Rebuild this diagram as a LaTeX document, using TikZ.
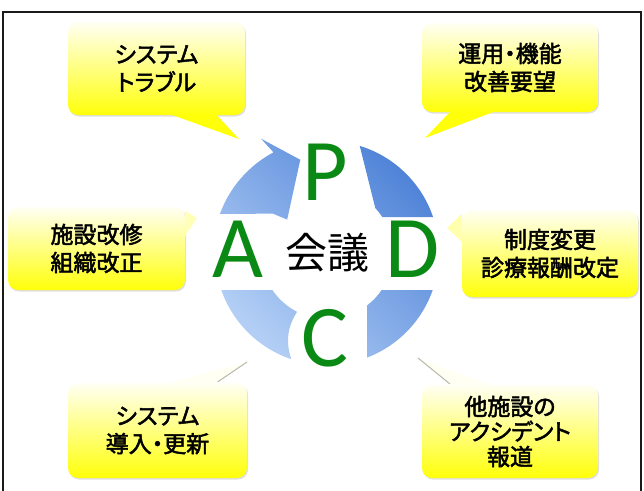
\documentclass[tikz,border=0pt]{standalone}
\usepackage{fontspec}
\usepackage{xcolor}
\usepackage{tikz}
\usetikzlibrary{calc,positioning,shadows}
\setmainfont{Carlito}
\newfontfamily\jpfont[RawFeature=+palt,FakeBold=2.2]{Noto Sans CJK JP}
\newfontfamily\jpplain{Noto Sans CJK JP}
\newfontfamily\pdcafont{Carlito}
\definecolor{framex}{HTML}{1A1A1A}
\definecolor{bubtop}{HTML}{FFFFF4}
\definecolor{bubbot}{HTML}{FFFF0A}
\definecolor{ringl}{HTML}{B2CEF5}
\definecolor{ringr}{HTML}{5084D8}
\definecolor{greenx}{HTML}{0A8A14}
\definecolor{shadowx}{HTML}{B8B8A8}
\tikzset{
  bubble/.style={rounded corners=10pt,top color=bubtop,bottom color=bubbot,align=center,inner sep=0pt,
    font=\jpfont\fontsize{23}{28}\selectfont,
    drop shadow={shadow xshift=1pt,shadow yshift=-1.5pt,opacity=0.25}},
  letter/.style={font=\pdcafont\fontsize{88}{88}\selectfont,text=greenx,anchor=base,inner sep=0pt},
  edge/.style={shadowx,line width=1pt}
}
\begin{document}
\begin{tikzpicture}[x=1pt,y=-1pt]
\useasboundingbox (0,0) rectangle (644,490);
\draw[framex,line width=1.8pt] (3,495) -- (3,12) -- (641,12) -- (641,495);

\begin{scope}[shift={(327,253)},y=1pt]
\shade[top color=ringl,bottom color=ringr,shading angle=135]
  (160:114) arc[start angle=160,end angle=118,radius=114] -- (120:132) -- (106:97) -- (140:52) -- (144:67) -- cycle
  (73:112) arc[start angle=73,end angle=18.7,radius=112] -- (33:66) arc[start angle=33,end angle=43,radius=66] -- cycle
  (-19.3:112) arc[start angle=-19.3,end angle=-69,radius=112] -- (-52.7:66) arc[start angle=-52.7,end angle=-34.1,radius=66] -- cycle
  (-108.6:112) arc[start angle=-108.6,end angle=-160.7,radius=112] -- (-145.9:66) arc[start angle=-145.9,end angle=-117,radius=66] to[bend right=25] cycle;
\end{scope}

\node[font=\jpplain\fontsize{42}{42}\selectfont] (kaigi) at (327,253) {会議};
\node[letter] (p) at (325,200) {P};
\node[letter] (d) at (413,277) {D};
\node[letter] (c) at (325,366) {C};
\node[letter] (a) at (238,277) {A};

\coordinate (tltip) at (239,139);
\coordinate (trtip) at (425,138);
\coordinate (lmtip) at (197,218);
\coordinate (rmtip) at (447,228);
\coordinate (bltip) at (247,362);
\coordinate (brtip) at (418,358);

\node[bubble,minimum width=177pt,minimum height=93pt] (tl) at (156.5,68.5) {システム\\トラブル};
\node[bubble,minimum width=176pt,minimum height=89pt] (tr) at (510,67.5) {運用・機能\\改善要望};
\node[bubble,minimum width=177pt,minimum height=83pt] (lm) at (96.5,248.5) {施設改修\\組織改正};
\node[bubble,minimum width=176pt,minimum height=87pt] (rm) at (550,253.5) {制度変更\\診療報酬改定};
\node[bubble,minimum width=179pt,minimum height=95pt] (bl) at (157.5,430.5) {システム\\導入・更新};
\node[bubble,minimum width=176pt,minimum height=93pt,font=\jpfont\fontsize{23}{25}\selectfont] (br) at (510,431.5) {他施設の\\アクシデント\\報道};

\fill[bubbot] ($(tl.south west)+(105,0)$) -- (tltip) -- ($(tl.south west)+(149,0)$) -- cycle;
\fill[bubbot] ($(tr.south west)+(28,0)$) -- (trtip) -- ($(tr.south west)+(71,0)$) -- cycle;
\fill[bubbot!25!bubtop] ($(lm.north east)+(0,4)$) -- (lmtip) -- ($(lm.north east)+(0,29)$) -- cycle;
\fill[bubbot!30!bubtop] ($(rm.north west)+(0,4)$) -- (rmtip) -- ($(rm.north west)+(0,32)$) -- cycle;
\fill[bubtop] ($(bl.north west)+(102,0)$) -- (bltip) -- ($(bl.north west)+(150,0)$) -- cycle;
\draw[edge] ($(bl.north west)+(150,-1)$) -- (bltip);
\fill[bubtop] ($(br.north west)+(28,0)$) -- (brtip) -- ($(br.north west)+(68,0)$) -- cycle;
\draw[edge] ($(br.north west)+(28,-1)$) -- (brtip);
\end{tikzpicture}
\end{document}
